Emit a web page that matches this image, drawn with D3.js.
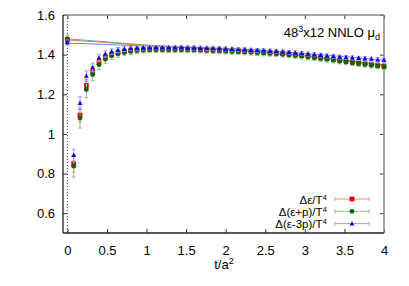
<!DOCTYPE html>
<html>
<head>
<meta charset="utf-8">
<script src="https://cdn.jsdelivr.net/npm/d3@7"></script>
<style>
  body { margin: 0; background: #fff; }
  text { font-family: "Liberation Sans", Arial, sans-serif; fill: #000; }
</style>
</head>
<body>
<svg id="chart" width="409" height="286"></svg>
<script>
// flow time values
const tVals = [0, 0.08, 0.16, 0.24, 0.32, 0.40, 0.48, 0.56, 0.64, 0.72, 0.80, 0.88, 0.96, 1.04, 1.12, 1.20, 1.28, 1.36, 1.44, 1.52, 1.60,
  1.68, 1.76, 1.84, 1.92, 2.00, 2.08, 2.16, 2.24, 2.32, 2.40, 2.48, 2.56, 2.64, 2.72, 2.80, 2.88, 2.96, 3.04, 3.12, 3.20,
  3.28, 3.36, 3.44, 3.52, 3.60, 3.68, 3.76, 3.84, 3.92, 4.00]

// Δε/T^4
const epsVals = [1.475, 0.850, 1.095, 1.245, 1.314, 1.360, 1.385, 1.400, 1.410, 1.416, 1.421, 1.424, 1.426, 1.427, 1.428, 1.428, 1.428, 1.428, 1.428, 1.427, 1.426,
  1.425, 1.424, 1.423, 1.422, 1.420, 1.419, 1.418, 1.416, 1.415, 1.413, 1.411, 1.409, 1.407, 1.405, 1.402, 1.399, 1.396, 1.392, 1.388, 1.384,
  1.380, 1.376, 1.371, 1.367, 1.362, 1.358, 1.354, 1.350, 1.346, 1.342]
const epsErr = [0.015, 0.042, 0.035, 0.030, 0.025, 0.020, 0.018, 0.016, 0.015, 0.014, 0.013, 0.013, 0.012, 0.012, 0.012, 0.012, 0.012, 0.012, 0.012, 0.012, 0.012,
  0.012, 0.012, 0.012, 0.012, 0.012, 0.012, 0.012, 0.012, 0.012, 0.012, 0.012, 0.012, 0.012, 0.012, 0.012, 0.012, 0.012, 0.012, 0.012, 0.012,
  0.012, 0.012, 0.012, 0.012, 0.012, 0.012, 0.012, 0.012, 0.012, 0.012]

// Δ(ε+p)/T^4
const entVals = [1.478, 0.837, 1.080, 1.225, 1.300, 1.350, 1.378, 1.395, 1.405, 1.412, 1.417, 1.421, 1.423, 1.425, 1.426, 1.426, 1.426, 1.426, 1.426, 1.425, 1.424,
  1.423, 1.422, 1.421, 1.420, 1.418, 1.417, 1.416, 1.414, 1.413, 1.411, 1.409, 1.407, 1.405, 1.402, 1.399, 1.396, 1.393, 1.389, 1.385, 1.381,
  1.377, 1.373, 1.368, 1.364, 1.359, 1.355, 1.351, 1.347, 1.343, 1.339]
const entErr = [0.020, 0.055, 0.050, 0.042, 0.032, 0.026, 0.022, 0.020, 0.018, 0.017, 0.016, 0.016, 0.015, 0.015, 0.015, 0.015, 0.015, 0.015, 0.015, 0.015, 0.015,
  0.015, 0.015, 0.015, 0.015, 0.015, 0.015, 0.015, 0.015, 0.015, 0.015, 0.015, 0.015, 0.015, 0.015, 0.015, 0.015, 0.015, 0.015, 0.015, 0.015,
  0.015, 0.015, 0.015, 0.015, 0.015, 0.015, 0.015, 0.015, 0.015, 0.015]

// Δ(ε-3p)/T^4
const traceVals = [1.462, 0.893, 1.155, 1.292, 1.335, 1.383, 1.403, 1.415, 1.423, 1.428, 1.431, 1.433, 1.434, 1.435, 1.435, 1.435, 1.435, 1.435, 1.435, 1.434, 1.434,
  1.433, 1.432, 1.431, 1.430, 1.429, 1.428, 1.426, 1.425, 1.423, 1.421, 1.420, 1.418, 1.416, 1.414, 1.411, 1.409, 1.406, 1.403, 1.400, 1.397,
  1.394, 1.391, 1.388, 1.386, 1.384, 1.382, 1.380, 1.378, 1.375, 1.373]
const traceErr = [0.012, 0.030, 0.032, 0.026, 0.022, 0.018, 0.016, 0.014, 0.013, 0.012, 0.011, 0.011, 0.011, 0.010, 0.010, 0.010, 0.010, 0.010, 0.010, 0.010, 0.010,
  0.010, 0.010, 0.010, 0.010, 0.010, 0.010, 0.010, 0.010, 0.010, 0.010, 0.010, 0.010, 0.010, 0.010, 0.010, 0.010, 0.010, 0.010, 0.010, 0.010,
  0.010, 0.010, 0.010, 0.010, 0.010, 0.010, 0.010, 0.010, 0.010, 0.010]

// thin curves behind the points
const curveT = [0, 0.25, 0.5, 0.75, 1, 1.5, 2, 2.5, 3, 3.5, 4]
const epsCurve = [1.474, 1.468, 1.461, 1.453, 1.446, 1.436, 1.425, 1.412, 1.396, 1.372, 1.348]
const entCurve = [1.480, 1.472, 1.464, 1.456, 1.448, 1.436, 1.424, 1.410, 1.393, 1.369, 1.343]
const traceCurve = [1.458, 1.455, 1.451, 1.447, 1.443, 1.438, 1.432, 1.421, 1.406, 1.390, 1.372]

const xTicks = [0, 0.5, 1, 1.5, 2, 2.5, 3, 3.5, 4]
const yTicks = [0.6, 0.8, 1, 1.2, 1.4, 1.6]

let margin = {top: 15, right: 25, bottom: 53, left: 63}
let W = 409, H = 286
let pxX = W - margin.left - margin.right, pxY = H - margin.top - margin.bottom

let svg = d3.select('#chart')
let g = svg.append('g').attr('transform', `translate(${margin.left},${margin.top})`)

let scX = d3.scaleLinear().domain([-0.055, 4]).range([0, pxX])
let scY = d3.scaleLinear().domain([0.5, 1.6]).range([pxY, 0])

// dotted line at t=0
g.append('line')
  .attr('x1', scX(0)).attr('x2', scX(0)).attr('y1', 0).attr('y2', pxY)
  .attr('stroke', '#444').attr('stroke-width', 1).attr('stroke-dasharray', '1,2')

// axes with inward ticks, labels on left/bottom
g.append('g').attr('transform', `translate(0,${pxY})`)
  .call(d3.axisBottom(scX).tickValues(xTicks).tickSize(-4).tickPadding(13).tickFormat(d3.format('')))
g.append('g')
  .call(d3.axisLeft(scY).tickValues(yTicks).tickSize(-4).tickPadding(8).tickFormat(d3.format('')))
g.append('g')
  .call(d3.axisTop(scX).tickValues(xTicks).tickSize(-4).tickFormat(''))
g.append('g').attr('transform', `translate(${pxX},0)`)
  .call(d3.axisRight(scY).tickValues(yTicks).tickSize(-4).tickFormat(''))

g.selectAll('.domain').remove()
g.selectAll('.tick line').attr('stroke', '#333')
g.selectAll('.tick text').style('font-size', '13px').style('font-family', '"Liberation Sans", Arial, sans-serif')

// frame
g.append('line').attr('x1', 0).attr('x2', pxX).attr('y1', 0).attr('y2', 0).attr('stroke', '#888').attr('stroke-width', 1.5)
g.append('line').attr('x1', pxX).attr('x2', pxX).attr('y1', 0).attr('y2', pxY).attr('stroke', '#888').attr('stroke-width', 1.5)
g.append('line').attr('x1', 0).attr('x2', 0).attr('y1', 0).attr('y2', pxY).attr('stroke', '#222').attr('stroke-width', 1.3)
g.append('line').attr('x1', 0).attr('x2', pxX).attr('y1', pxY).attr('y2', pxY).attr('stroke', '#222').attr('stroke-width', 1.3)

const series = [
  {vals: epsVals, err: epsErr, curve: epsCurve, color: '#e00000', light: '#ff8c8c', lineC: '#ff6a6a', shape: 'square'},
  {vals: entVals, err: entErr, curve: entCurve, color: '#006400', light: '#8cbf8c', lineC: '#6aaa6a', shape: 'circle'},
  {vals: traceVals, err: traceErr, curve: traceCurve, color: '#0000ee', light: '#9a9aff', lineC: '#7a7aff', shape: 'triangle'}
]

let makeLine = d3.line().x((d, i) => scX(curveT[i])).y(d => scY(d))
series.forEach(s => {
  g.append('path').attr('d', makeLine(s.curve)).attr('fill', 'none')
    .attr('stroke', s.lineC).attr('stroke-width', 1)
})

function marker(sel, shape, color) {
  if (shape === 'square') {
    sel.append('rect').attr('x', -2.4).attr('y', -2.4).attr('width', 4.8).attr('height', 4.8).attr('fill', color)
  } else if (shape === 'circle') {
    sel.append('circle').attr('r', 2.4).attr('fill', color)
  } else {
    sel.append('path').attr('d', 'M0,-2.6L2.4,1.8L-2.4,1.8Z').attr('fill', color)
  }
}

series.forEach(s => {
  let sg = g.append('g')
  let pts = sg.selectAll('g').data(s.vals).enter().append('g')
    .attr('transform', (d, i) => `translate(${scX(tVals[i])},${scY(d)})`)
  pts.append('line').attr('x1', 0).attr('x2', 0)
    .attr('y1', (d, i) => scY(d + s.err[i]) - scY(d))
    .attr('y2', (d, i) => scY(d - s.err[i]) - scY(d))
    .attr('stroke', s.light).attr('stroke-width', 1)
  pts.append('line').attr('x1', -2).attr('x2', 2)
    .attr('y1', (d, i) => scY(d + s.err[i]) - scY(d)).attr('y2', (d, i) => scY(d + s.err[i]) - scY(d))
    .attr('stroke', s.light).attr('stroke-width', 1)
  pts.append('line').attr('x1', -2).attr('x2', 2)
    .attr('y1', (d, i) => scY(d - s.err[i]) - scY(d)).attr('y2', (d, i) => scY(d - s.err[i]) - scY(d))
    .attr('stroke', s.light).attr('stroke-width', 1)
  pts.each(function () { marker(d3.select(this), s.shape, s.color) })
})

// legend
const legendLabels = [
  ['Δε/T', '4'],
  ['Δ(ε+p)/T', '4'],
  ['Δ(ε-3p)/T', '4']
]
series.forEach((s, idx) => {
  let y = 184 + idx * 12.3
  let lg = g.append('g').attr('transform', `translate(0,${y})`)
  let t = lg.append('text').attr('x', 264).attr('y', 4.5).attr('text-anchor', 'end').style('font-size', '11.5px')
  t.append('tspan').text(legendLabels[idx][0])
  t.append('tspan').attr('dy', -4).style('font-size', '8px').text(legendLabels[idx][1])
  lg.append('line').attr('x1', 272).attr('x2', 306).attr('y1', 0).attr('y2', 0).attr('stroke', s.light)
  lg.append('line').attr('x1', 272).attr('x2', 272).attr('y1', -2).attr('y2', 2).attr('stroke', s.light)
  lg.append('line').attr('x1', 306).attr('x2', 306).attr('y1', -2).attr('y2', 2).attr('stroke', s.light)
  let m = lg.append('g').attr('transform', 'translate(289,0)')
  marker(m, s.shape, s.color)
})

// title
let title = g.append('text').attr('x', pxX - 4).attr('y', 22).attr('text-anchor', 'end').style('font-size', '13px')
title.append('tspan').text('48')
title.append('tspan').attr('dy', -5).style('font-size', '9px').text('3')
title.append('tspan').attr('dy', 5).text('x12 NNLO μ')
title.append('tspan').attr('dy', 3).style('font-size', '9px').text('d')

// x label
let xl = svg.append('text').attr('x', 224).attr('y', 269).attr('text-anchor', 'middle').style('font-size', '13px')
xl.append('tspan').text('t/a')
xl.append('tspan').attr('dy', -5).style('font-size', '9px').text('2')
</script>
</body>
</html>
